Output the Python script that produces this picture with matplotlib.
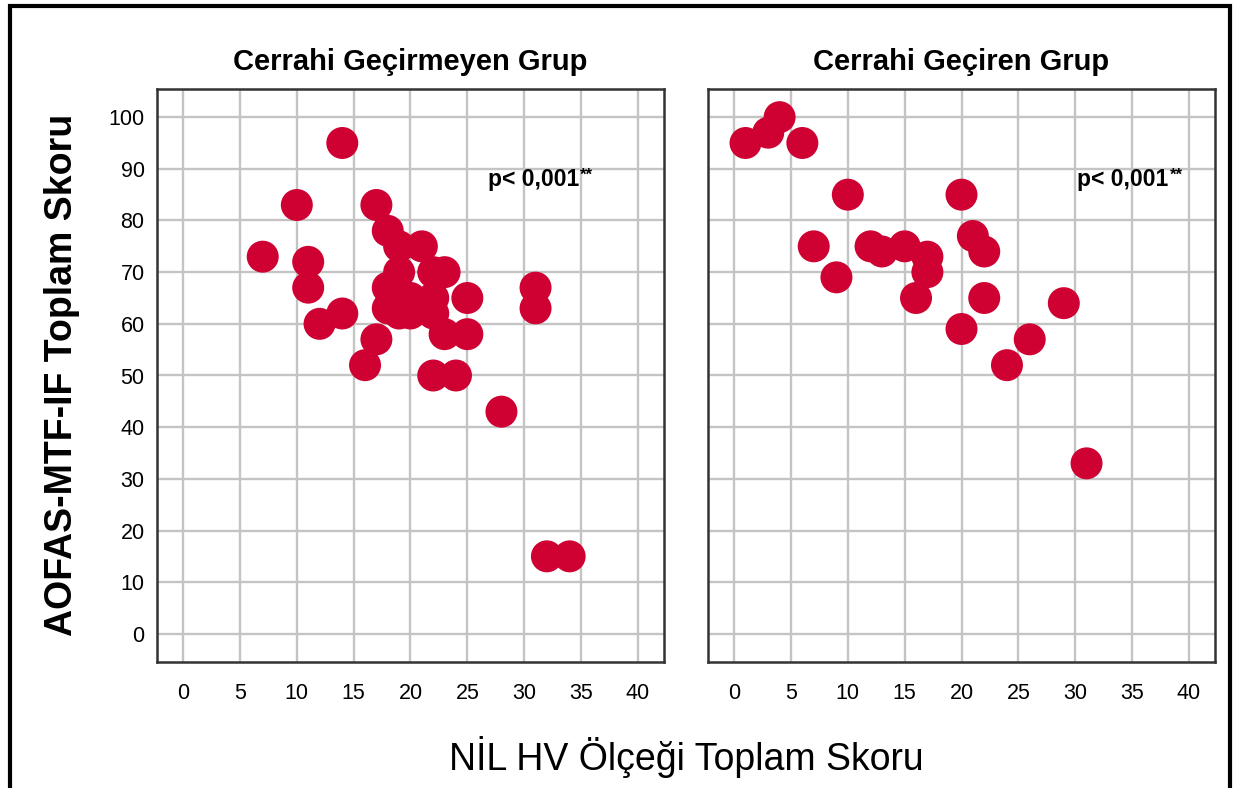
import matplotlib
matplotlib.use("Agg")
import matplotlib.pyplot as plt
from matplotlib.patches import Rectangle

# ---- data ----
titles = ["Cerrahi Geçirmeyen Grup", "Cerrahi Geçiren Grup"]
p_text = "p< 0,001"
x_label = "NİL HV Ölçeği Toplam Skoru"
y_label = "AOFAS-MTF-IF Toplam Skoru"
x_ticks = [0, 5, 10, 15, 20, 25, 30, 35, 40]
y_ticks = [0, 10, 20, 30, 40, 50, 60, 70, 80, 90, 100]

nil_no_surgery = [14, 10, 17, 7, 11, 11, 12, 14, 18, 19, 21, 19, 22, 23, 18, 18, 19,
                  20, 20, 21, 22, 22, 25, 23, 25, 17, 16, 22, 24, 28, 31, 31, 32, 34]
aofas_no_surgery = [95, 83, 83, 73, 72, 67, 60, 62, 78, 75, 75, 70, 70, 70, 67, 63, 62,
                    65, 62, 63, 65, 62, 65, 58, 58, 57, 52, 50, 50, 43, 67, 63, 15, 15]

nil_surgery = [1, 3, 4, 6, 10, 20, 7, 9, 12, 13, 15, 17, 17, 16, 21, 22, 22, 20, 29, 26, 24, 31]
aofas_surgery = [95, 97, 100, 95, 85, 85, 75, 69, 75, 74, 75, 73, 70, 65, 77, 74, 65, 59, 64, 57, 52, 33]

W, H = 1233, 788
fig = plt.figure(figsize=(W / 100, H / 100), dpi=100)
fig.patch.set_facecolor("white")

narrow = ['Liberation Sans Narrow', 'Liberation Sans', 'DejaVu Sans']
regular = ['Liberation Sans', 'DejaVu Sans']

red = '#CF0032'
axes_px = [(157, 89, 507, 573), (708, 89, 507, 573)]
data = [(nil_no_surgery, aofas_no_surgery), (nil_surgery, aofas_surgery)]
p_pos = [(26.8, 88), (30.2, 88)]

for i, ((x0, y0, w, h), (xs, ys)) in enumerate(zip(axes_px, data)):
    ax = fig.add_axes([x0 / W, 1 - (y0 + h) / H, w / W, h / H])
    ax.set_xlim(-2.3, 42.3)
    ax.set_ylim(-5.45, 105.45)
    ax.set_xticks(x_ticks)
    ax.set_yticks(y_ticks)
    ax.grid(True, color='#C4C4C4', linewidth=1.7)
    ax.set_axisbelow(True)
    for s in ax.spines.values():
        s.set_color('#333333')
        s.set_linewidth(1.8)
    ax.tick_params(length=0, labelsize=15.5)
    ax.tick_params(axis='x', pad=15)
    ax.tick_params(axis='y', pad=9)
    for lab in ax.get_xticklabels() + ax.get_yticklabels():
        lab.set_family(regular)
    if i == 1:
        ax.tick_params(axis='y', labelleft=False)
    ax.scatter(xs, ys, s=530, color=red, edgecolors='none', zorder=3)
    t = ax.text(p_pos[i][0], p_pos[i][1], p_text, family=narrow, fontweight='bold',
                fontsize=16.5, va='center', ha='left')
    ax.annotate('**', xy=(1.01, 1.0), xycoords=t, va='top', ha='left',
                family=narrow, fontweight='bold', fontsize=12)
    fig.text((x0 + w / 2) / W, 1 - 62 / H, titles[i], family=narrow, fontweight='bold',
             fontsize=21, ha='center', va='center')

fig.text(686 / W, 1 - 757 / H, x_label, family=narrow, fontsize=27, ha='center', va='center')
fig.text(62 / W, 1 - 375 / H, y_label, family=regular, fontweight='bold', fontsize=27,
         rotation=90, ha='center', va='center')

fig.add_artist(Rectangle((10 / W, -0.05), 1220 / W, 1.05 - 6 / H, transform=fig.transFigure,
                         fill=False, edgecolor='black', linewidth=3, clip_on=False))

fig.savefig("out.png", dpi=100)
